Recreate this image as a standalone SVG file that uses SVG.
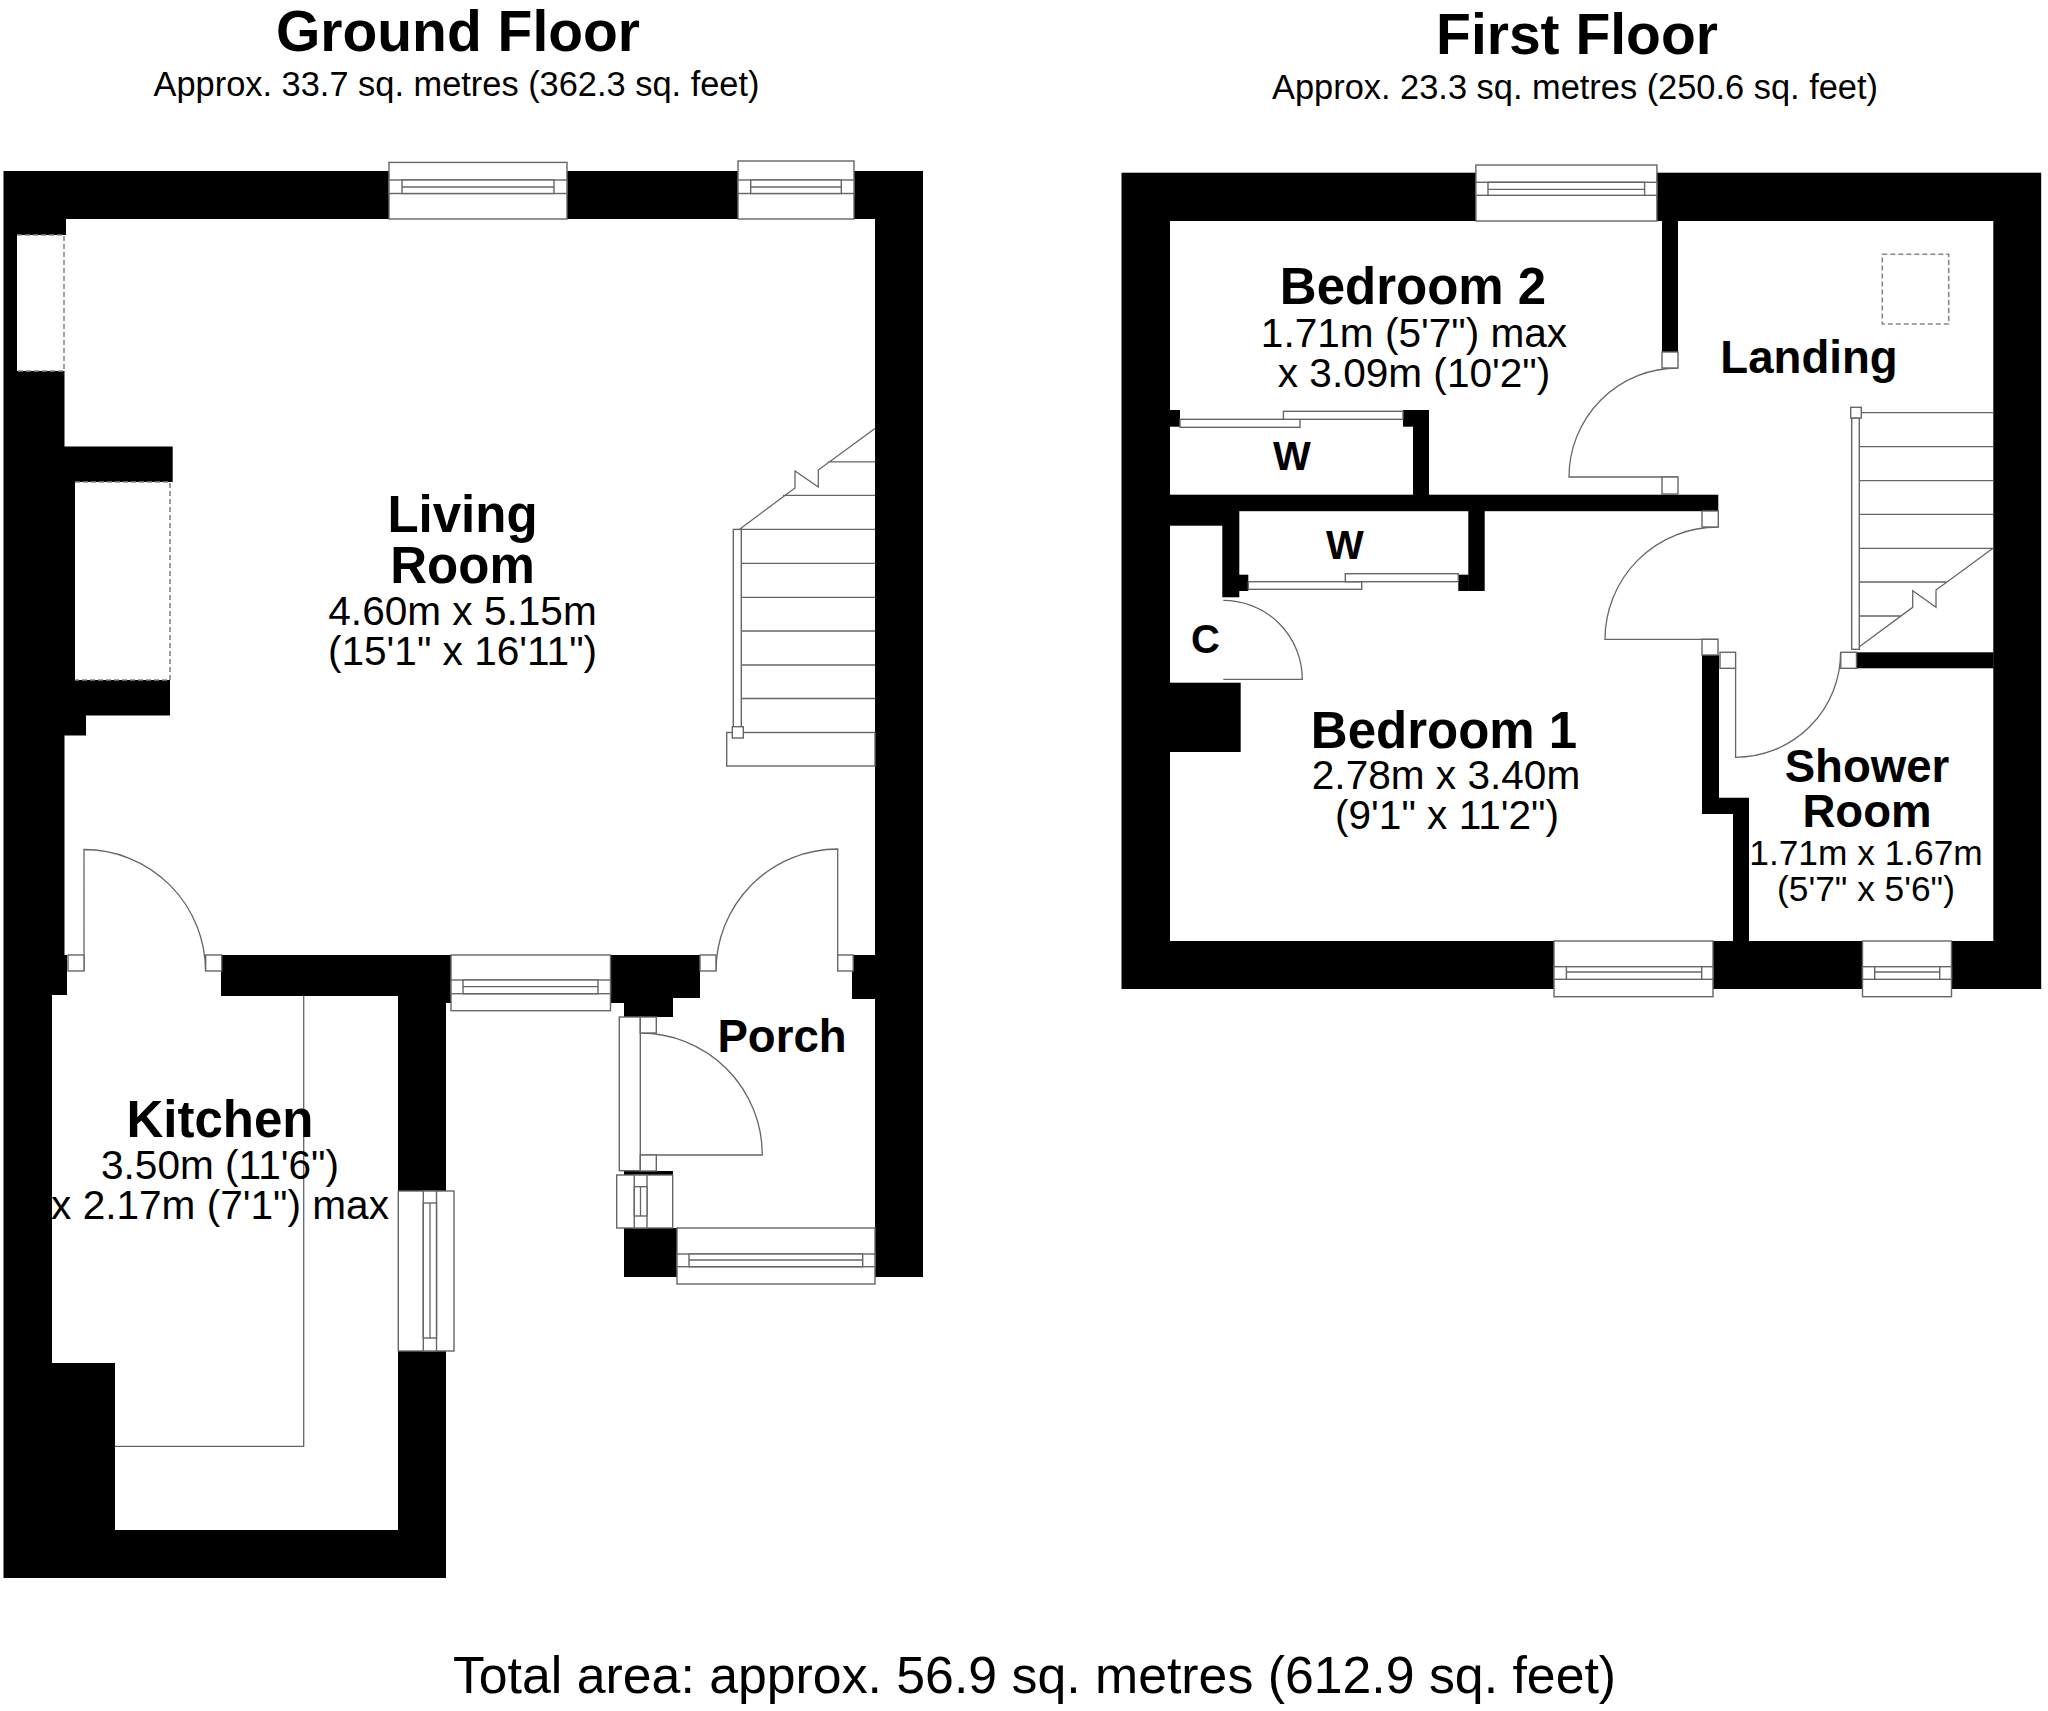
<svg xmlns="http://www.w3.org/2000/svg" width="2048" height="1711" viewBox="0 0 2048 1711">
<style>
.wall{fill:#000}
.room{fill:#fff}
.w{fill:#fff;stroke:#666;stroke-width:1.4}
.l{fill:none;stroke:#666;stroke-width:1.3}
.d{fill:none;stroke:#888;stroke-width:1.6;stroke-dasharray:5 3}
text{font-family:"Liberation Sans",Arial,sans-serif;fill:#000;text-anchor:middle}
.title{font-size:57px;font-weight:700}
.sub{font-size:34.4px}
.n{font-size:51px;font-weight:700}
.n2{font-size:45.6px;font-weight:700}
.n3{font-size:40px;font-weight:700}
.m{font-size:40.6px}
.m2{font-size:35.3px}
.total{font-size:51.8px}
</style>
<rect width="2048" height="1711" fill="#fff"/>

<g id="ground-floor">
  <path class="wall" d="M3.5 171H923V1277H624V1003H446V1578H3.5Z"/>
  <path class="room" d="M66 219H875V955H852V999H875V1228H673V1171H619V1017H673V998H700V955H221V996H398V1530H115V1363H52V995H67V955H64.5V735.5H86V715.6H170V680H75V482H172.7V446.6H64.5V371H17V235H66Z"/>
  <g id="gf-features">
    <path class="d" d="M17 235H64V371H17"/>
    <path class="d" d="M75 482H170V680H75"/>
    <path class="l" d="M303.7 996V1446.4H114.7"/>
  </g>
  <g id="gf-stairs">
    <path class="l" d="M741 563.3H875M741 597.4H875M741 631H875M741 665H875M741 698.5H875M741 529.4H875M828 461.8H875M783 495.4H875M875 428.6L818.3 470V487L795 471V488L739.3 529.4"/>
    <rect class="w" x="726.7" y="732.5" width="148.3" height="33.5"/>
    <rect class="w" x="733.3" y="529.4" width="8" height="203"/>
    <rect class="w" x="732.3" y="726.7" width="11" height="11.3"/>
  </g>
  <g id="gf-doors">
    <path class="l" d="M84 971V849.5A121.5 121.5 0 0 1 205.5 971"/>
    <path class="l" d="M837.7 971V849A121.7 122 0 0 0 716 971"/>
    <path class="l" d="M640.3 1155H762.3A122 122 0 0 0 640.3 1033"/>
    <rect class="w" x="68" y="955" width="16" height="16"/>
    <rect class="w" x="205.7" y="955" width="16" height="16"/>
    <rect class="w" x="700" y="955" width="16" height="16"/>
    <rect class="w" x="837.7" y="955" width="15.5" height="16"/>
    <rect class="w" x="619.3" y="1017" width="21" height="153.7"/>
    <rect class="w" x="640.3" y="1017" width="16" height="16"/>
    <rect class="w" x="640.3" y="1155" width="16" height="16"/>
  </g>
  <g id="gf-windows">
    <rect class="w" x="389" y="162.4" width="178" height="56.6"/>
    <rect class="w" x="389" y="180" width="178" height="13.5"/>
    <rect class="w" x="402" y="180" width="152" height="13.5"/>
    <path class="l" d="M402 187H554"/>
    <rect class="w" x="738" y="161" width="116" height="58"/>
    <rect class="w" x="738" y="180" width="116" height="13.5"/>
    <rect class="w" x="750.7" y="180" width="90.6" height="13.5"/>
    <path class="l" d="M750.7 187H841.3"/>
    <rect class="w" x="451" y="955" width="159.5" height="55.7"/>
    <rect class="w" x="451" y="980" width="159.5" height="13.7"/>
    <rect class="w" x="463" y="980" width="135" height="13.7"/>
    <path class="l" d="M463 986.7H598"/>
    <rect class="w" x="677" y="1228" width="198" height="56"/>
    <rect class="w" x="677" y="1254" width="198" height="12.7"/>
    <rect class="w" x="689" y="1254" width="173.7" height="12.7"/>
    <path class="l" d="M689 1260H862.7"/>
    <rect class="w" x="398.3" y="1191" width="55.7" height="160"/>
    <rect class="w" x="423.3" y="1191" width="13.2" height="160"/>
    <rect class="w" x="423.3" y="1203" width="13.2" height="135"/>
    <path class="l" d="M430 1203V1338"/>
    <rect class="w" x="616.7" y="1175" width="56" height="53"/>
    <rect class="w" x="634.3" y="1175" width="12.7" height="53"/>
    <rect class="w" x="634.3" y="1186.7" width="12.7" height="29.3"/>
    <path class="l" d="M640.5 1186.7V1216"/>
  </g>
</g>

<g id="first-floor">
  <rect class="wall" x="1121.5" y="172.7" width="919.7" height="816.3"/>
  <rect class="room" x="1170" y="221" width="823.3" height="720"/>
  <g id="ff-partitions" class="wall">
    <rect x="1662" y="221" width="16" height="131"/>
    <rect x="1170" y="494.7" width="548.3" height="16.5"/>
    <rect x="1413" y="410" width="16" height="85"/>
    <rect x="1403" y="410" width="26" height="16.7"/>
    <rect x="1170" y="410" width="10" height="16.7"/>
    <rect x="1170" y="511" width="53" height="14.7"/>
    <rect x="1222.3" y="511" width="17" height="86.3"/>
    <rect x="1239" y="574.7" width="9.3" height="16.3"/>
    <rect x="1468.3" y="511" width="16.4" height="80"/>
    <rect x="1458.3" y="574.7" width="10.5" height="16.3"/>
    <rect x="1170" y="682.7" width="70.7" height="69.3"/>
    <path d="M1702 655H1719V797.7H1749V941H1733V814H1702Z"/>
    <rect x="1856.5" y="652.3" width="137" height="16"/>
  </g>
  <g id="ff-stairs">
    <path class="l" d="M1859.3 412.7H1993M1859.3 446.7H1993M1859.3 480.7H1993M1859.3 514.3H1993M1859.3 548.3H1993M1859.3 582H1946.7M1859.3 616H1901.7M1993 548.3L1936 590V607.3L1912.7 590.7V607.3L1859.3 646.7"/>
    <rect class="w" x="1851.7" y="418" width="7.6" height="231.3"/>
    <rect class="w" x="1850.7" y="407.3" width="10.6" height="10.7"/>
  </g>
  <path class="d" d="M1882.3 254.3H1948.7V324H1882.3Z"/>
  <g id="ff-wardrobes">
    <rect class="w" x="1180" y="419.3" width="120" height="8"/>
    <rect class="w" x="1283.4" y="411.3" width="119.6" height="8"/>
    <rect class="w" x="1248.3" y="581.7" width="113.4" height="7.6"/>
    <rect class="w" x="1345.3" y="573.7" width="113" height="8"/>
  </g>
  <g id="ff-doors">
    <path class="l" d="M1678 477H1569A109 109 0 0 1 1678 368"/>
    <path class="l" d="M1718 639.3H1605A113 112.3 0 0 1 1718 527"/>
    <path class="l" d="M1735.6 668V757.3A105 105 0 0 0 1840.6 652.3"/>
    <path class="l" d="M1223.3 679.3H1302.3A79 79 0 0 0 1223.3 600.3"/>
    <rect class="w" x="1662" y="352" width="16" height="16"/>
    <rect class="w" x="1662" y="477" width="16" height="17"/>
    <rect class="w" x="1702" y="511" width="16.3" height="16"/>
    <rect class="w" x="1702" y="639.3" width="16" height="15.7"/>
    <rect class="w" x="1720" y="652.3" width="15.6" height="16"/>
    <rect class="w" x="1840.8" y="652.3" width="15.7" height="16"/>
  </g>
  <g id="ff-windows">
    <rect class="w" x="1475.9" y="165" width="181" height="56"/>
    <rect class="w" x="1475.9" y="182.3" width="181" height="13"/>
    <rect class="w" x="1488" y="182.3" width="156.6" height="13"/>
    <path class="l" d="M1488 189.3H1644.6"/>
    <rect class="w" x="1554" y="941" width="159" height="55.7"/>
    <rect class="w" x="1554" y="966.7" width="159" height="12.6"/>
    <rect class="w" x="1566.4" y="966.7" width="135.3" height="12.6"/>
    <path class="l" d="M1566.4 972H1701.7"/>
    <rect class="w" x="1862.5" y="941" width="89" height="55.7"/>
    <rect class="w" x="1862.5" y="966.7" width="89" height="12.6"/>
    <rect class="w" x="1874.7" y="966.7" width="65" height="12.6"/>
    <path class="l" d="M1874.7 972H1939.7"/>
  </g>
</g>

<g id="labels">
  <text class="title" x="458" y="51">Ground Floor</text>
  <text class="sub" x="456.5" y="96">Approx. 33.7 sq. metres (362.3 sq. feet)</text>
  <text class="title" x="1577" y="54">First Floor</text>
  <text class="sub" x="1575" y="99">Approx. 23.3 sq. metres (250.6 sq. feet)</text>
  <text class="total" x="1034.5" y="1693">Total area: approx. 56.9 sq. metres (612.9 sq. feet)</text>
  <g id="living-room"><text class="n" x="462.5" y="532">Living</text><text class="n" x="462.5" y="583">Room</text><text class="m" x="462.5" y="625">4.60m x 5.15m</text><text class="m" x="462.5" y="665">(15'1" x 16'11")</text></g>
  <g id="kitchen"><text class="n" x="220" y="1137">Kitchen</text><text class="m" x="220" y="1178.5">3.50m (11'6")</text><text class="m" x="220" y="1219">x 2.17m (7'1") max</text></g>
  <g id="porch"><text class="n2" x="782" y="1051.7">Porch</text></g>
  <g id="bedroom-2"><text class="n" x="1413" y="304">Bedroom 2</text><text class="m" x="1414" y="347">1.71m (5'7") max</text><text class="m" x="1414" y="387">x 3.09m (10'2")</text></g>
  <g id="landing"><text class="n2" x="1809" y="372.7">Landing</text></g>
  <g id="wardrobe-2"><text class="n3" x="1292" y="470">W</text></g>
  <g id="wardrobe-1"><text class="n3" x="1345" y="559">W</text></g>
  <g id="cupboard"><text class="n3" x="1205.5" y="653">C</text></g>
  <g id="bedroom-1"><text class="n" x="1444" y="747.7">Bedroom 1</text><text class="m" x="1446" y="789">2.78m x 3.40m</text><text class="m" x="1447" y="829">(9'1" x 11'2")</text></g>
  <g id="shower-room"><text class="n2" x="1867" y="781.7">Shower</text><text class="n2" x="1867" y="827">Room</text><text class="m2" x="1866" y="865">1.71m x 1.67m</text><text class="m2" x="1866" y="900.7">(5'7" x 5'6")</text></g>
</g>
</svg>
